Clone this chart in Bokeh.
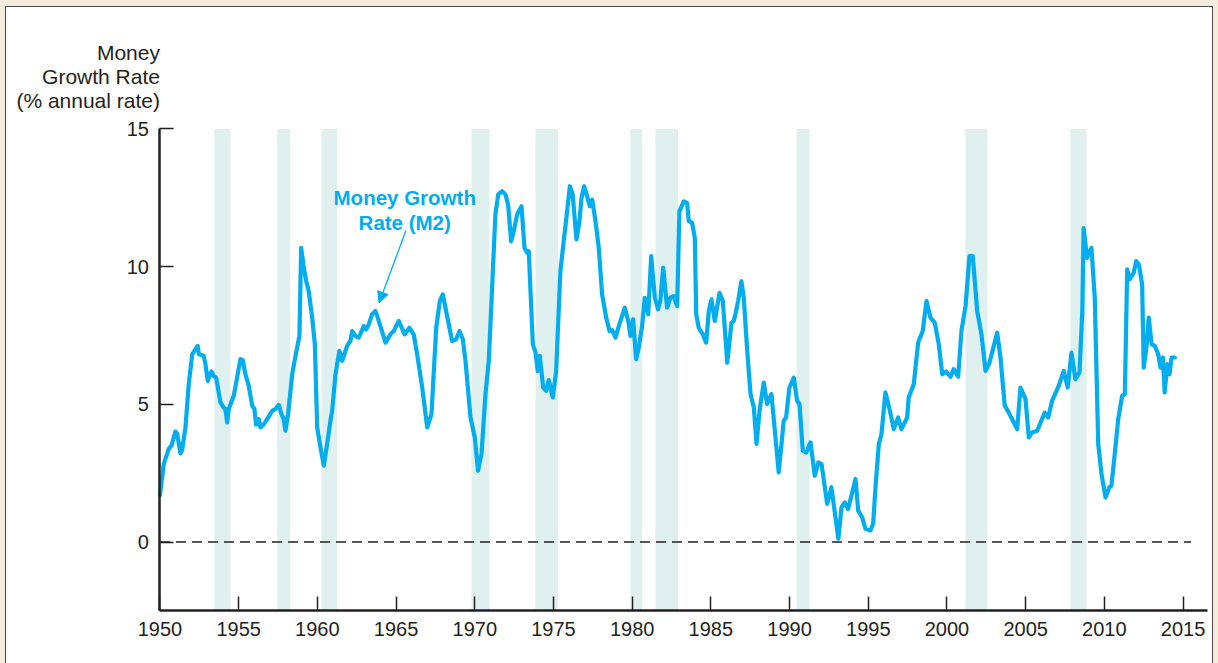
from bokeh.plotting import figure
from bokeh.models import FixedTicker, BoxAnnotation, Label, Arrow, NormalHead, ColumnDataSource, Range1d
from bokeh.embed import file_html
from bokeh.resources import INLINE

# ---------------- data ----------------
years = [
    1950.0, 1950.24, 1950.56, 1950.73, 1950.98, 1951.1, 1951.3, 1951.4, 1951.62, 1951.83,
    1952.05, 1952.26, 1952.4, 1952.47, 1952.78, 1952.89, 1953.04, 1953.1, 1953.27, 1953.42,
    1953.57, 1953.84, 1954.05, 1954.16, 1954.27, 1954.37, 1954.69, 1954.9, 1955.11, 1955.26,
    1955.43, 1955.64, 1955.86, 1956.0, 1956.11, 1956.28, 1956.39, 1956.6, 1956.81, 1957.13,
    1957.34, 1957.55, 1957.72, 1957.87, 1957.97, 1958.14, 1958.4, 1958.61, 1958.86, 1958.97,
    1959.14, 1959.29, 1959.45, 1959.67, 1959.84, 1959.99, 1960.2, 1960.41, 1960.62, 1960.83,
    1960.94, 1961.15, 1961.4, 1961.58, 1961.89, 1962.1, 1962.21, 1962.42, 1962.63, 1962.95,
    1963.1, 1963.27, 1963.48, 1963.69, 1963.9, 1964.33, 1964.64, 1964.85, 1965.17, 1965.55,
    1965.85, 1966.12, 1966.34, 1966.66, 1966.98, 1967.25, 1967.55, 1967.78, 1967.97, 1968.18,
    1968.56, 1968.82, 1969.03, 1969.24, 1969.41, 1969.73, 1970.0, 1970.21, 1970.43, 1970.68,
    1970.89, 1971.1, 1971.31, 1971.49, 1971.74, 1971.95, 1972.12, 1972.31, 1972.48, 1972.69,
    1972.97, 1973.16, 1973.33, 1973.43, 1973.69, 1973.86, 1974.0, 1974.13, 1974.35, 1974.54,
    1974.7, 1974.96, 1975.17, 1975.44, 1975.65, 1975.82, 1976.04, 1976.22, 1976.46, 1976.65,
    1976.78, 1976.95, 1977.14, 1977.31, 1977.46, 1977.67, 1977.88, 1978.09, 1978.35, 1978.56,
    1978.73, 1978.94, 1979.19, 1979.53, 1979.75, 1979.89, 1980.06, 1980.25, 1980.42, 1980.63,
    1980.8, 1981.02, 1981.21, 1981.44, 1981.65, 1981.8, 1981.97, 1982.22, 1982.43, 1982.64,
    1982.86, 1983.0, 1983.28, 1983.49, 1983.6, 1983.81, 1983.98, 1984.07, 1984.23, 1984.49,
    1984.7, 1984.87, 1985.04, 1985.25, 1985.55, 1985.76, 1986.04, 1986.31, 1986.45, 1986.56,
    1986.73, 1986.94, 1987.09, 1987.31, 1987.52, 1987.73, 1987.9, 1988.09, 1988.36, 1988.58,
    1988.85, 1989.31, 1989.63, 1989.78, 1989.99, 1990.27, 1990.48, 1990.63, 1990.84, 1991.06,
    1991.33, 1991.6, 1991.82, 1992.03, 1992.39, 1992.66, 1993.1, 1993.3, 1993.51, 1993.72,
    1993.98, 1994.19, 1994.36, 1994.61, 1994.82, 1995.14, 1995.31, 1995.46, 1995.67, 1995.84,
    1996.09, 1996.35, 1996.62, 1996.9, 1997.11, 1997.47, 1997.57, 1997.89, 1998.17, 1998.46,
    1998.7, 1998.95, 1999.23, 1999.48, 1999.7, 1999.95, 2000.22, 2000.43, 2000.71, 2000.92,
    2001.18, 2001.43, 2001.64, 2001.92, 2002.19, 2002.45, 2002.7, 2003.19, 2003.4, 2003.67,
    2003.93, 2004.03, 2004.46, 2004.67, 2004.99, 2005.2, 2005.41, 2005.73, 2006.21, 2006.43,
    2006.68, 2007.1, 2007.42, 2007.67, 2007.91, 2008.16, 2008.42, 2008.6, 2008.68, 2008.9,
    2009.18, 2009.39, 2009.61, 2009.82, 2010.07, 2010.32, 2010.45, 2010.66, 2010.88, 2011.13,
    2011.3, 2011.45, 2011.6, 2011.87, 2012.02, 2012.19, 2012.4, 2012.5, 2012.67, 2012.82,
    2013.0, 2013.21, 2013.42, 2013.57, 2013.72, 2013.83, 2014.0, 2014.14, 2014.27, 2014.48,
]

m2_growth = [
    1.7, 2.83, 3.38, 3.5, 4.01, 3.92, 3.22, 3.32, 4.16, 5.73,
    6.82, 7.0, 7.12, 6.82, 6.76, 6.46, 5.85, 5.97, 6.19, 6.03,
    5.97, 5.07, 4.88, 4.83, 4.34, 4.83, 5.31, 5.97, 6.64, 6.6,
    6.09, 5.67, 4.95, 4.83, 4.26, 4.46, 4.16, 4.28, 4.46, 4.76,
    4.83, 4.98, 4.64, 4.46, 4.04, 4.64, 6.09, 6.76, 7.48, 10.68,
    9.96, 9.47, 9.11, 8.15, 7.18, 4.16, 3.43, 2.77, 3.56, 4.4,
    4.76, 6.09, 6.94, 6.58, 7.12, 7.3, 7.66, 7.48, 7.42, 7.84,
    7.72, 7.91, 8.27, 8.39, 8.03, 7.24, 7.54, 7.66, 8.03, 7.54,
    7.78, 7.54, 6.82, 5.61, 4.16, 4.64, 7.78, 8.75, 8.99, 8.39,
    7.3, 7.36, 7.66, 7.36, 6.58, 4.52, 3.8, 2.59, 3.2, 5.37,
    6.58, 9.23, 11.89, 12.62, 12.74, 12.62, 12.25, 10.92, 11.29, 11.89,
    12.19, 10.68, 10.5, 10.56, 7.18, 6.88, 6.21, 6.76, 5.61, 5.49,
    5.88, 5.25, 6.21, 9.84, 10.92, 11.77, 12.92, 12.62, 10.99, 11.65,
    12.49, 12.92, 12.55, 12.19, 12.43, 11.65, 10.68, 8.99, 8.15, 7.66,
    7.69, 7.42, 7.91, 8.51, 8.03, 7.48, 8.09, 6.64, 7.06, 7.84,
    8.87, 8.27, 10.38, 8.87, 8.45, 8.81, 9.96, 8.51, 8.87, 8.93,
    8.57, 12.01, 12.37, 12.31, 11.65, 11.59, 11.04, 8.27, 7.78, 7.54,
    7.24, 8.39, 8.81, 8.03, 9.05, 8.75, 6.51, 7.96, 8.03, 8.27,
    8.75, 9.47, 8.87, 6.94, 5.37, 4.88, 3.56, 4.76, 5.79, 5.01,
    5.37, 2.53, 4.4, 4.52, 5.61, 5.97, 5.13, 5.01, 3.32, 3.25,
    3.62, 2.41, 2.89, 2.83, 1.38, 1.99, 0.12, 1.26, 1.44, 1.2,
    1.8, 2.29, 1.14, 0.9, 0.48, 0.42, 0.66, 1.99, 3.56, 3.92,
    5.43, 4.83, 4.1, 4.52, 4.1, 4.52, 5.25, 5.73, 7.24, 7.66,
    8.75, 8.15, 7.96, 7.18, 6.09, 6.19, 6.0, 6.28, 6.0, 7.66,
    8.57, 10.38, 10.38, 8.39, 7.54, 6.21, 6.51, 7.6, 6.7, 4.95,
    4.7, 4.58, 4.1, 5.61, 5.19, 3.8, 3.98, 4.04, 4.7, 4.52,
    5.13, 5.67, 6.21, 5.61, 6.88, 5.91, 6.15, 8.39, 11.4, 10.32,
    10.68, 8.87, 3.56, 2.47, 1.62, 1.99, 2.05, 3.2, 4.46, 5.31,
    5.37, 9.9, 9.54, 9.78, 10.2, 10.08, 9.36, 6.33, 7.06, 8.15,
    7.18, 7.12, 6.82, 6.33, 6.7, 5.43, 6.46, 6.09, 6.7, 6.7,
]

recession_start = [1953.46, 1957.45, 1960.26, 1969.79, 1973.86, 1979.89, 1981.48, 1990.44, 2001.18, 2007.85]
recession_end = [1954.48, 1958.27, 1961.26, 1970.93, 1975.30, 1980.63, 1982.92, 1991.27, 2002.57, 2008.87]

x_ticks = [1950, 1955, 1960, 1965, 1970, 1975, 1980, 1985, 1990, 1995, 2000, 2005, 2010, 2015]
y_ticks = [0, 5, 10, 15]
axis_title_lines = ["Money", "Growth Rate", "(% annual rate)"]
series_label_lines = ["Money Growth", "Rate (M2)"]

# ---------------- style ----------------
BLUE = "#00aeef"
BAND = "#e0f0ef"
INK = "#231f20"
FONT = "Liberation Sans"

X_AXIS_START, X_AXIS_END = 1950, 2016.55
Y_AXIS_START, Y_AXIS_END = -2.5, 15

p = figure(
    width=1206, height=656,
    x_range=Range1d(1940.25, 2016.87), y_range=Range1d(-4.412, 19.41),
    output_backend="svg", toolbar_location=None,
    min_border_left=0, min_border_right=0, min_border_top=0, min_border_bottom=0,
    background_fill_color="white", border_fill_color="white",
    outline_line_color=None,
)
p.styles = {"margin-left": "6px", "margin-top": "7px",
            "outline": "1.5px solid #4a4a4a", "box-shadow": "0 0 0 9px #f3ebdc"}
p.grid.visible = False

for ax in (p.xaxis, p.yaxis):
    ax.axis_line_color = INK
    ax.axis_line_width = 2.5
    ax.major_tick_line_color = INK
    ax.major_tick_line_width = 1.5
    ax.major_tick_in = 14
    ax.major_tick_out = 0
    ax.minor_tick_line_color = None
    ax.major_label_text_font = FONT
    ax.major_label_text_font_size = "20px"
    ax.major_label_text_color = INK

p.xaxis.ticker = FixedTicker(ticks=x_ticks)
p.yaxis.ticker = FixedTicker(ticks=y_ticks)
p.xaxis.fixed_location = Y_AXIS_START
p.yaxis.fixed_location = X_AXIS_START
p.xaxis.bounds = (X_AXIS_START, X_AXIS_END)
p.yaxis.bounds = (Y_AXIS_START, Y_AXIS_END)
p.xaxis.major_label_standoff = 11
p.yaxis.major_label_standoff = 11

# recession bands
for s, e in zip(recession_start, recession_end):
    p.add_layout(BoxAnnotation(left=s, right=e, bottom=Y_AXIS_START, top=Y_AXIS_END,
                               fill_color=BAND, fill_alpha=1.0, line_color=None, level="underlay"))

# zero reference line
ZERO_LINE_END = 2015.5
p.line(x=[X_AXIS_START, ZERO_LINE_END], y=[0, 0], line_color=INK, line_width=1.4, line_dash="10 6")

# money growth series
src = ColumnDataSource(data=dict(year=years, growth=m2_growth))
p.line("year", "growth", source=src, line_color=BLUE, line_width=4.2, line_join="round", line_cap="round")

# series annotation
label_x = 1965.55
for txt, yy in zip(series_label_lines, [12.52, 11.61]):
    p.add_layout(Label(x=label_x, y=yy, text=txt, text_align="center", text_baseline="alphabetic",
                       text_font=FONT, text_font_size="20.5px", text_font_style="bold", text_color=BLUE))
p.add_layout(Arrow(end=NormalHead(size=11, fill_color=BLUE, line_color=BLUE, line_width=1),
                   x_start=1965.62, y_start=11.3, x_end=1963.92, y_end=8.68,
                   line_color=BLUE, line_width=1.3))

# axis title
for txt, yy in zip(axis_title_lines, [17.77, 16.9, 16.03]):
    p.add_layout(Label(x=X_AXIS_START, y=yy, text=txt, text_align="right", text_baseline="alphabetic",
                       text_font=FONT, text_font_size="21px", text_color=INK))

open("out.html", "w").write(file_html(p, INLINE))
